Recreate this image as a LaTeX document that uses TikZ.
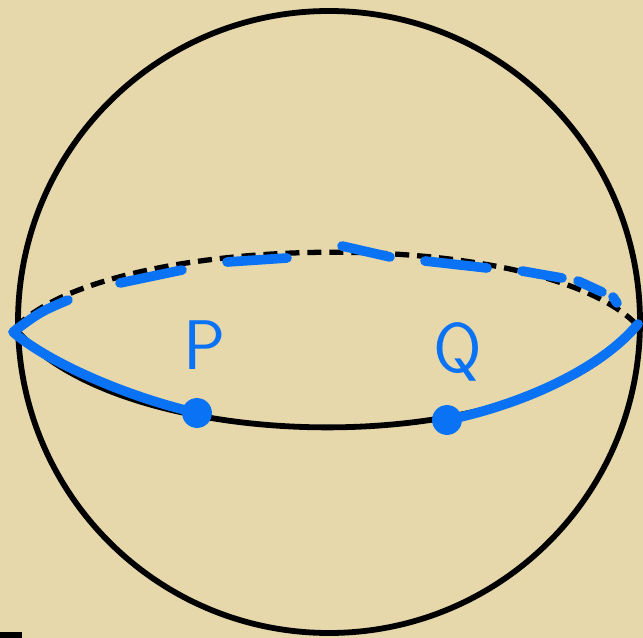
\documentclass[tikz,border=0pt]{standalone}
\usepackage{xcolor}
\definecolor{parchment}{RGB}{230,216,170}
\definecolor{pen}{RGB}{10,115,245}

\begin{document}
\begin{tikzpicture}[x=0.02cm,y=-0.02cm,
    sphere/.style={line width=3.3pt},
    backline/.style={line width=3pt,dash pattern=on 8pt off 4.5pt},
    ink/.style={pen,line width=5.5pt,line cap=round,line join=round},
    spot/.style={circle,fill=pen,minimum size=17pt,inner sep=0pt},
    lbl/.style={text=pen,font=\sffamily\fontsize{40}{40}\selectfont}
]
\fill[parchment] (0,0) rectangle (643,638);
\useasboundingbox (0,0) rectangle (643,638);
\fill (0,632) rectangle (22,638);

% sphere and equator
\draw[sphere] (329,322) circle[radius=311];
\coordinate (L) at (15,328);
\coordinate (R) at (637,325);
\draw[backline] (L) .. controls (110,230) and (540,225) .. (R);
\draw[sphere] (L) .. controls (120,458) and (530,464) .. (R);

% the points
\node[spot] (P) at (197,413) {};
\node[spot] (Q) at (447,420) {};
\node[lbl] (labelP) at (205,345) {P};
\node[lbl] (labelQ) at (458,352) {Q};

% blue pen over the equator
\draw[ink] (68,300) .. controls (40,312) .. (13,332)
    .. controls (45,360) and (120,395) .. (P.center);
\draw[ink] (Q.center) .. controls (520,405) and (600,370) .. (638,324);
\foreach \a/\b in {{(120,283)}/{(182,270)}, {(227,262)}/{(287,258)},
    {(342,246)}/{(390,257)}, {(425,261)}/{(487,268)},
    {(522,271)}/{(562,278)}, {(578,281)}/{(602,292)},
    {(613,297)}/{(617,303)}}
  \draw[ink] \a -- \b;
\end{tikzpicture}
\end{document}
